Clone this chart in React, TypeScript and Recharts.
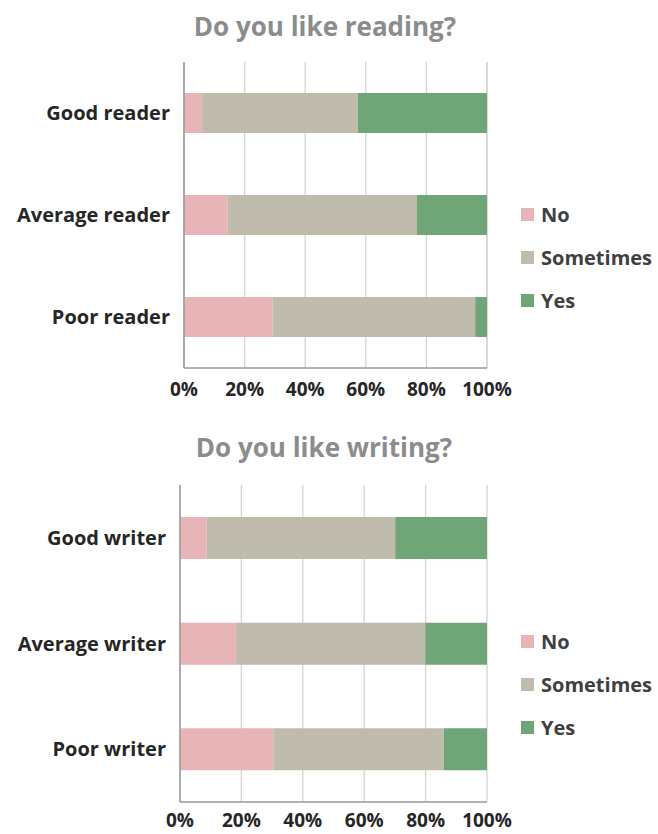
import { Bar, BarChart, CartesianGrid, XAxis, YAxis } from 'recharts';

const readerCategories = ['Good reader', 'Average reader', 'Poor reader'];
const readerNo = [6.0, 14.4, 29.2];
const readerSometimes = [51.4, 62.5, 66.9];
const readerYes = [42.6, 23.1, 3.9];

const writerCategories = ['Good writer', 'Average writer', 'Poor writer'];
const writerNo = [8.7, 18.2, 30.4];
const writerSometimes = [61.4, 61.7, 55.5];
const writerYes = [29.9, 20.1, 14.1];

const percentTicks = [0, 20, 40, 60, 80, 100];

const seriesKeys = ['No', 'Sometimes', 'Yes'];
const seriesColors = ['#e7b5b7', '#bfbcae', '#70a577'];

const FONT = '"Open Sans", sans-serif';

function buildRows(cats: string[], no: number[], some: number[], yes: number[]) {
    return cats.map((c, i) => ({ name: c, No: no[i], Sometimes: some[i], Yes: yes[i] }));
}

// legend drawn beside the plot, not reserved by recharts
function LegendBox({ top }: { top: number }) {
    return (
        <div style={{ position: 'absolute', left: 521, top, fontFamily: FONT }}>
            {seriesKeys.map((k, i) => (
                <div key={k} style={{ display: 'flex', alignItems: 'center', height: 43 }}>
                    <span style={{ width: 13, height: 13, background: seriesColors[i], marginRight: 7 }} />
                    <span style={{ fontSize: 20, fontWeight: 700, color: '#404040' }}>{k}</span>
                </div>
            ))}
        </div>
    );
}

interface StackProps {
    rows: any[];
    top: number;
    height: number;
    marginTop: number;
    xAxisHeight: number;
    axisWidth: number;
    barSize: number;
    tickMargin: number;
}

function StackChart({ rows, top, height, marginTop, xAxisHeight, axisWidth, barSize, tickMargin }: StackProps) {
    const tickStyle = { fontSize: 19, fontWeight: 700, fill: '#262626', fontFamily: FONT };
    const catStyle = { ...tickStyle, fontSize: 20 };
    return (
        <div style={{ position: 'absolute', left: 0, top, width: 658, height }}>
            <BarChart
                width={658}
                height={height}
                data={rows}
                layout="vertical"
                margin={{ top: marginTop, right: 171, bottom: 0, left: 0 }}
            >
                <CartesianGrid horizontal={false} stroke="#d4d4d4" strokeWidth={1.3} />
                <XAxis
                    type="number"
                    domain={[0, 100]}
                    ticks={percentTicks}
                    tickFormatter={(v) => `${v}%`}
                    height={xAxisHeight}
                    tickLine={false}
                    tickMargin={tickMargin}
                    axisLine={{ stroke: '#999999', strokeWidth: 1.5 }}
                    tick={tickStyle}
                    interval={0}
                />
                <YAxis
                    type="category"
                    dataKey="name"
                    width={axisWidth}
                    tickLine={false}
                    tickMargin={8}
                    axisLine={{ stroke: '#999999', strokeWidth: 1.5 }}
                    tick={catStyle}
                />
                {seriesKeys.map((k, i) => (
                    <Bar key={k} dataKey={k} stackId="a" fill={seriesColors[i]} barSize={barSize} isAnimationActive={false} />
                ))}
            </BarChart>
        </div>
    );
}

export default function App() {
    const readers = buildRows(readerCategories, readerNo, readerSometimes, readerYes);
    const writers = buildRows(writerCategories, writerNo, writerSometimes, writerYes);
    return (
        <div style={{ position: 'absolute', left: 0, top: 0, width: 658, height: 834 }}>
            <svg width={658} height={834} style={{ position: 'absolute', left: 0, top: 0 }}>
                <text x={325} y={36} textAnchor="middle" fontFamily={FONT} fontWeight={700} fontSize={26} fill="#8c8c8c">
                    Do you like reading?
                </text>
                <text x={324} y={457} textAnchor="middle" fontFamily={FONT} fontWeight={700} fontSize={26} fill="#8c8c8c">
                    Do you like writing?
                </text>
            </svg>
            <StackChart rows={readers} top={0} height={412} marginTop={62} xAxisHeight={44} axisWidth={184} barSize={40} tickMargin={9} />
            <LegendBox top={193} />
            <StackChart rows={writers} top={400} height={434} marginTop={85} xAxisHeight={32} axisWidth={180} barSize={42} tickMargin={6} />
            <LegendBox top={620} />
        </div>
    );
}
